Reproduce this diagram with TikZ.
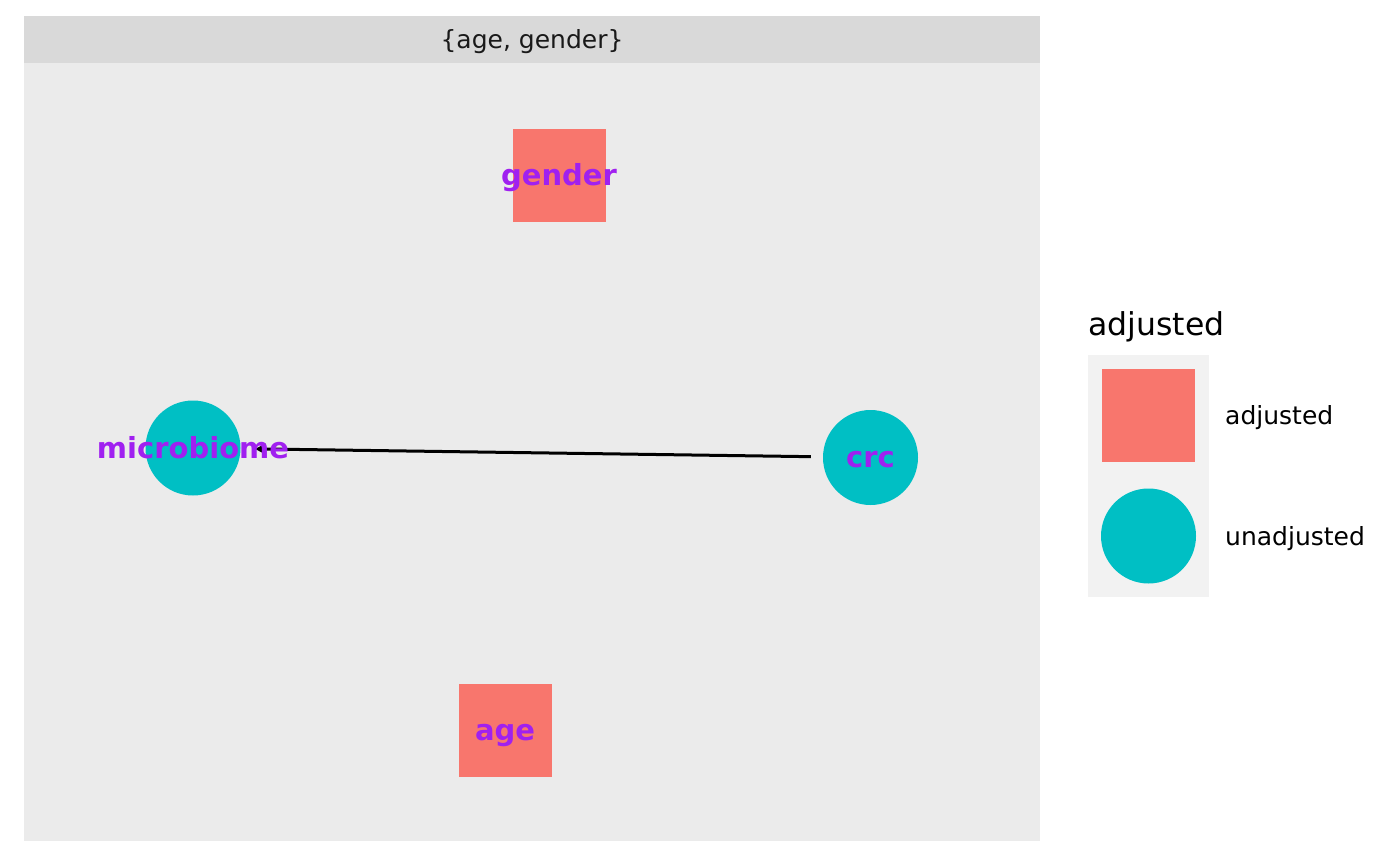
\documentclass[tikz,border=0pt]{standalone}
\usepackage{fontspec}
\setmainfont{DejaVu Sans}
\usetikzlibrary{arrows.meta}

\definecolor{adjcol}{HTML}{F8766D}
\definecolor{unadjcol}{HTML}{00BFC4}
\definecolor{txtcol}{HTML}{A020F0}
\definecolor{panelbg}{HTML}{EBEBEB}
\definecolor{stripbg}{HTML}{D9D9D9}
\definecolor{keybg}{HTML}{F2F2F2}

\tikzset{
  adj/.style={rectangle, fill=adjcol, minimum size=93pt, inner sep=0pt},
  unadj/.style={circle, fill=unadjcol, minimum size=95pt, inner sep=0pt},
  lbl/.style={anchor=base, yshift=-10pt, inner sep=0pt, text=txtcol, font=\fontsize{29}{34}\selectfont\bfseries},
  keytext/.style={anchor=base west, inner sep=0pt, font=\fontsize{25}{28}\selectfont}
}

\begin{document}
\begin{tikzpicture}[x=1pt, y=-1pt]

\useasboundingbox (0, 0) rectangle (1400, 865);

% panel and strip
\fill[panelbg] (24, 63) rectangle (1040, 841);
\fill[stripbg] (24, 16) rectangle (1040, 63);
\node[keytext, anchor=base, text={black!90}] (strip) at (532, 48) {\{age, gender\}};

\node[adj] (gender) at (559, 175) {};
\node[adj] (age) at (505, 730) {};
\node[unadj] (microbiome) at (193, 448) {};
\node[unadj] (crc) at (870.5, 457.5) {};

\draw[line width=3pt, -{Triangle[length=11pt, width=10pt]}, shorten <=12pt, shorten >=14pt] (crc) -- (microbiome);

\node[lbl] at (gender) {gender};
\node[lbl] at (age) {age};
\node[lbl] at (microbiome) {microbiome};
\node[lbl] at (crc) {crc};

% legend
\node[anchor=base west, inner sep=0pt, font=\fontsize{31.5}{34}\selectfont] (legtitle) at (1088, 335) {adjusted};
\fill[keybg] (1088, 355) rectangle (1209, 597);
\node[adj] (keyadj) at (1148.5, 415.5) {};
\node[unadj] (keyunadj) at (1148.5, 536) {};
\node[keytext] at (1225, 424) {adjusted};
\node[keytext] at (1225, 545) {unadjusted};

\end{tikzpicture}
\end{document}
